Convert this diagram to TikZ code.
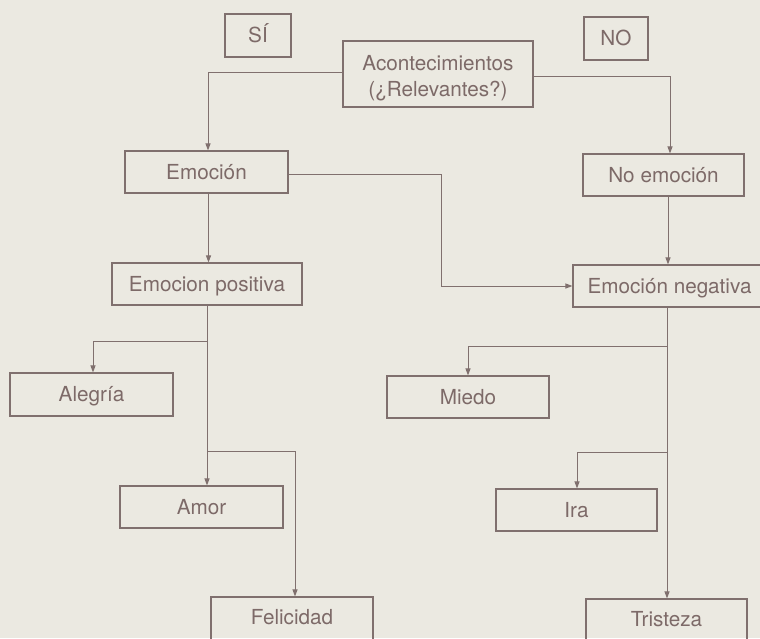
\documentclass[tikz,border=0pt]{standalone}
\usepackage{fontspec}
\setmainfont{TeX Gyre Heros}
\usetikzlibrary{arrows.meta,calc}
\definecolor{bg}{RGB}{235,233,225}
\definecolor{ink}{RGB}{125,106,104}
\definecolor{wirecol}{RGB}{128,112,110}
\begin{document}
\begin{tikzpicture}[x=1pt,y=-1pt,
  box/.style={draw=wirecol, line width=1.1pt, text=ink,
    font=\fontsize{20.7}{24}\selectfont, inner sep=0pt, align=center,
    text height=14.9pt, text depth=0pt},
  bx/.style 2 args={box, minimum width=#1pt, minimum height=#2pt},
  arr/.style={draw=wirecol, line width=1pt, -{Triangle[length=7pt,width=5pt]}},
  wire/.style={draw=wirecol, line width=1pt}]
\clip (0,0) rectangle (760,638);
\useasboundingbox (0,0) rectangle (760,638);
\fill[bg] (0,0) rectangle (760,638);

\node[bx={66}{43}] (si) at (258,35.5) {SÍ};
\node[bx={64}{43}] (no) at (616,38.5) {NO};
\node[bx={190}{66}, font=\fontsize{20.7}{26}\selectfont, text height=44.9pt] (acon) at (438,74) {Acontecimientos\\(¿Relevantes?)};
\node[bx={163}{42}] (emo) at (206.5,172) {Emoción};
\node[bx={161}{42}] (noemo) at (663.5,175) {No emoción};
\node[bx={190}{42}] (pos) at (207,284) {Emocion positiva};
\node[bx={193}{42}] (neg) at (669.5,286) {Emoción negativa};
\node[bx={163}{43}] (ale) at (91.5,394.5) {Alegría};
\node[bx={162}{42}] (mie) at (468,397) {Miedo};
\node[bx={163}{42}] (amor) at (201.5,507) {Amor};
\node[bx={161}{42}] (ira) at (576.5,510) {Ira};
\node[bx={162}{48}, text depth=7pt] (feli) at (292,621) {Felicidad};
\node[bx={161}{48}, text depth=8pt] (tris) at (666.5,623) {Tristeza};

\coordinate (j1) at (441,286);
\coordinate (b1) at (207,341);
\coordinate (b2) at (207,451);
\coordinate (b3) at (667,346);
\coordinate (b4) at (667,452);

\draw[arr] ([yshift=2pt]acon.west) -| ($(emo.north)+(1.5,0)$);
\draw[arr] ([yshift=-2pt]acon.east) -| ($(noemo.north)+(6.5,0)$);
\draw[arr] ([yshift=-2pt]emo.east) -| (j1) -- (neg.west);
\draw[arr] ($(noemo.south)+(4.5,0)$) -- ($(neg.north)+(-1.5,0)$);
\draw[arr] ($(emo.south)+(2,0)$) -- ($(pos.north)+(1.5,0)$);
\draw[arr] (pos.south) -- ($(amor.north)+(5.5,0)$);
\draw[arr] (b1) -| ($(ale.north)+(1.5,0)$);
\draw[arr] (b2) -| ($(feli.north)+(3,0)$);
\draw[arr] ($(neg.south)+(-2.5,0)$) -- ($(tris.north)+(0.5,0)$);
\draw[arr] (b3) -| (mie.north);
\draw[arr] (b4) -| ($(ira.north)+(0.5,0)$);
\end{tikzpicture}
\end{document}
